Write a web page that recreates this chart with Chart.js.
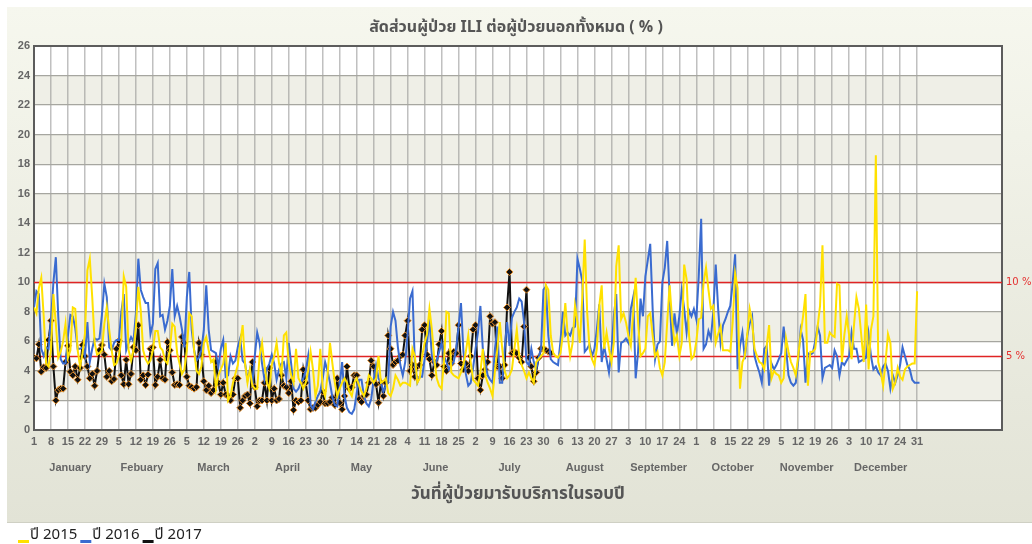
<!DOCTYPE html>
<html>
<head>
<meta charset="utf-8">
<script src="https://cdn.jsdelivr.net/npm/chart.js"></script>
<style>
html,body{margin:0;padding:0;background:#ffffff;}
#wrap{width:1032px;height:544px;position:relative;}
</style>
</head>
<body>
<div id="wrap"><canvas id="c" width="1032" height="544"></canvas></div>
<script>
const chartTitle = 'สัดส่วนผู้ป่วย ILI ต่อผู้ป่วยนอกทั้งหมด ( % )';
const xAxisTitle = 'วันที่ผู้ป่วยมารับบริการในรอบปี';
const seriesLabels = ['ปี 2015', 'ปี 2016', 'ปี 2017'];

const data2015 = [
8.3,7.9,9.6,10.3,7.7,4.5,4.3,
5.4,9.2,7.2,4.9,5.3,6.0,7.2,
4.9,5.4,8.3,8.2,5.4,4.3,5.2,
6.5,10.8,11.6,9.0,5.9,5.1,5.2,
5.4,7.2,8.3,6.8,5.4,4.4,4.5,
5.0,6.1,10.4,9.7,5.4,4.7,5.4,
7.0,9.7,8.1,5.4,4.8,4.5,4.7,
5.4,6.7,6.7,5.6,5.4,4.7,4.5,
5.4,7.2,7.0,5.2,4.5,3.8,4.1,
5.4,7.9,7.7,5.4,4.0,3.8,4.3,
5.9,6.3,5.4,4.6,4.8,2.8,3.7,
4.1,4.5,5.9,2.0,2.3,3.2,3.8,
4.4,5.9,7.1,4.5,3.2,4.1,3.0,
2.8,2.8,5.0,5.9,4.4,3.2,2.8,
4.4,5.0,5.9,4.5,3.7,6.4,6.6,
4.5,3.7,3.2,5.5,3.5,3.2,2.8,
3.2,4.0,5.3,4.1,2.3,3.0,5.5,
2.8,2.3,3.7,5.9,4.5,3.2,2.3,
2.8,3.2,3.5,3.2,2.6,2.3,3.2,
3.5,3.0,2.6,2.3,2.8,3.7,3.5,
3.2,3.5,5.0,3.2,3.3,3.5,2.5,
2.3,2.8,3.7,3.4,3.0,3.2,3.2,
3.1,3.0,5.5,5.0,3.2,3.5,5.0,
5.9,6.5,8.2,6.8,4.8,3.5,3.0,
2.8,4.6,8.0,7.9,3.9,3.7,3.6,
3.5,3.9,4.4,5.3,6.4,4.6,3.4,
3.2,3.0,3.9,5.5,3.7,3.2,2.8,
2.3,4.0,5.5,7.3,5.5,4.0,3.5,
3.7,4.1,5.5,6.8,5.0,4.4,4.0,
3.5,3.9,3.5,3.2,4.6,4.8,5.0,
5.2,9.8,9.5,6.4,5.2,5.0,4.9,
5.2,6.5,8.6,6.4,5.0,5.9,8.4,
7.3,5.9,9.0,12.9,8.0,5.5,4.8,
4.4,5.5,8.4,9.8,5.5,6.6,5.5,
4.6,5.9,11.1,12.5,7.5,7.9,7.3,
6.4,5.7,8.0,10.3,7.3,5.0,5.2,
5.5,7.7,7.9,6.4,5.0,5.3,4.2,
3.7,4.6,7.3,9.8,7.5,5.9,6.4,
5.0,5.9,11.2,10.2,6.4,4.8,5.0,
6.0,7.5,7.6,10.0,11.0,9.5,8.2,
8.4,5.9,6.5,7.0,5.4,5.4,5.4,
5.3,7.3,10.6,9.6,2.8,4.6,5.0,
6.5,8.2,7.3,5.5,5.0,4.6,4.5,
4.1,5.7,7.1,3.5,4.0,3.8,3.7,
3.2,3.5,6.2,5.3,4.6,4.2,3.7,
5.0,6.5,7.7,9.2,3.0,5.3,5.3,
5.5,7.0,8.4,12.5,5.9,5.9,6.6,
6.4,6.3,9.9,9.8,4.6,6.4,7.7,
6.4,4.8,7.1,9.0,8.2,6.4,4.6,
8.5,4.1,6.8,7.7,18.6,4.6,3.9,
3.0,4.6,6.5,5.9,2.8,3.2,4.2,
3.6,3.4,4.1,4.3,4.4,4.5,4.5,
9.4
];

const data2016 = [
8.3,9.4,9.2,5.5,5.0,5.6,5.5,
7.5,10.0,11.7,7.7,4.8,4.5,4.5,
6.4,7.8,7.7,6.9,5.5,5.5,5.6,
5.0,7.3,4.6,5.5,6.2,6.1,6.2,
7.8,9.9,9.0,5.6,5.4,5.9,6.1,
6.1,8.0,9.2,5.4,5.9,6.3,6.0,
7.9,11.6,9.5,9.0,8.6,8.6,6.5,
7.2,10.9,11.3,7.7,7.8,6.8,7.4,
8.4,10.9,7.7,8.4,7.7,6.8,5.6,
9.0,10.7,6.8,5.4,4.7,4.9,5.4,
6.8,9.8,6.8,5.4,5.3,5.2,4.3,
5.5,6.1,3.6,3.7,5.0,4.5,4.7,
5.6,6.2,4.7,4.5,3.4,4.1,3.2,
5.0,6.6,5.9,4.5,3.4,4.1,4.5,
5.1,4.5,3.4,4.1,4.5,4.6,3.5,
5.9,4.5,2.8,2.6,2.8,3.2,3.5,
4.0,5.0,1.7,1.4,1.9,2.3,2.6,
3.5,4.6,4.0,3.2,2.2,1.7,1.6,
3.0,4.6,2.3,1.5,1.2,1.1,1.4,
2.5,3.4,3.4,2.3,1.8,1.6,2.1,
3.4,4.4,3.5,3.2,2.6,3.0,3.2,
7.0,8.0,7.4,5.6,4.4,3.7,4.6,
6.5,8.9,9.4,4.4,3.2,3.6,3.6,
4.8,5.9,7.5,5.0,4.4,4.7,5.3,
5.9,5.0,4.6,4.1,4.4,4.6,5.5,
7.0,8.6,5.3,3.8,3.0,3.2,4.2,
5.5,6.6,8.4,5.5,4.6,3.7,3.4,
3.2,5.5,7.0,3.2,3.2,5.5,7.3,
5.7,7.6,8.0,8.3,8.9,8.7,7.3,
4.6,4.4,5.5,4.6,4.1,4.9,5.5,
9.5,9.7,6.4,4.8,4.6,4.5,4.4,
6.0,8.0,6.4,6.6,6.4,6.9,7.0,
11.6,10.9,10.1,5.3,5.5,5.8,5.0,
5.5,6.8,8.5,4.6,5.7,4.8,3.9,
5.3,7.7,9.2,3.9,5.9,6.0,6.2,
5.9,8.2,9.0,3.5,5.3,8.9,7.7,
10.4,11.5,12.6,8.2,4.8,5.8,6.0,
10.0,11.0,12.8,9.1,5.7,7.9,6.5,
7.7,9.5,8.2,6.6,8.1,7.7,8.2,
7.5,10.4,14.3,5.5,5.8,6.7,6.2,
8.0,11.2,8.2,5.9,7.1,7.5,8.0,
8.4,10.0,11.9,4.1,5.7,6.6,4.8,
6.4,7.2,7.7,5.0,4.4,3.9,3.2,
5.5,5.7,3.0,4.5,4.1,4.4,4.8,
5.2,7.0,5.5,3.7,3.2,3.0,3.2,
4.7,6.8,6.1,3.2,5.2,5.1,5.2,
6.0,7.0,6.4,3.5,4.2,4.3,4.4,
4.2,5.4,5.0,3.7,4.6,4.4,4.7,
5.0,6.6,5.5,5.5,4.6,4.7,4.8,
4.9,6.5,5.0,4.1,4.3,3.9,3.7,
4.3,4.5,4.0,2.8,3.7,3.2,3.7,
4.4,5.6,5.0,4.4,4.1,3.4,3.2,
3.2,3.2
];

const data2017 = [
4.9,4.85,5.8,3.95,4.25,4.2,6.1,
7.4,4.3,2.0,2.7,2.8,2.8,4.6,
5.7,3.95,3.7,4.3,3.4,4.2,5.75,
5.0,4.3,3.5,3.8,3.0,4.0,5.4,
5.75,5.1,3.6,4.0,3.3,3.45,5.5,
6.05,3.7,3.1,4.75,3.1,3.8,5.6,
5.4,7.1,3.4,3.7,3.05,3.75,5.5,
5.6,3.05,3.6,4.75,3.5,3.4,5.95,
5.4,3.9,3.05,3.1,3.05,6.3,5.9,
3.6,3.0,2.9,2.8,2.9,5.9,5.1,
3.3,2.7,3.0,2.5,2.7,4.6,3.2,
2.4,3.2,2.4,2.3,2.0,2.4,3.5,
3.5,1.5,2.0,2.3,2.4,1.8,4.6,
2.9,1.6,2.0,2.0,3.2,2.0,4.2,
2.0,2.8,2.0,2.1,3.7,3.0,2.9,
2.5,3.3,1.35,2.0,1.9,2.0,4.1,
3.2,2.0,1.4,1.5,1.5,1.7,1.9,
2.6,1.8,1.8,1.9,2.2,1.7,3.5,
1.85,1.4,2.3,4.3,2.8,2.9,3.7,
3.7,2.1,1.9,2.3,2.4,3.2,4.7,
4.3,3.1,1.85,3.2,2.3,3.2,6.4,
5.5,4.4,4.6,4.7,5.0,5.1,6.4,
7.4,4.0,4.4,3.6,4.3,4.4,6.8,
7.1,5.1,4.8,3.7,4.6,4.4,5.8,
6.7,4.3,4.0,5.2,4.5,5.3,5.2,
7.1,4.5,4.1,4.5,4.0,5.0,6.8,
7.1,3.5,2.7,3.7,4.1,4.6,7.7,
7.2,7.3,4.3,4.3,3.5,4.4,8.3,
10.7,5.2,5.3,5.2,4.9,4.6,7.0,
9.5,4.9,4.3,3.3,3.9,4.9,5.5,
5.5,5.4,5.3,5.2
];

const tickLabels = ['1','8','15','22','29','5','12','19','26','5','12','19','26',
  '2','9','16','23','30','7','14','21','28','4','11','18','25',
  '2','9','16','23','30','6','13','20','27','3','10','17','24',
  '1','8','15','22','29','5','12','19','26','3','10','17','24','31'];
const monthNames = ['January','Febuary','March','April','May','June','July','August','September','October','November','December'];
const monthDays = [31,28,31,30,31,30,31,31,30,31,30,31];
const thresholdValues = [10, 5];
const thresholdLabels = ['10 %', '5 %'];

const NUM_FONT = "'Liberation Sans', Arial, sans-serif";
const THAI_FONT = "Tahoma, 'Noto Sans Thai', 'Noto Sans Thai UI', Garuda, Loma, 'Liberation Sans', sans-serif";

const toPoints = arr => arr.map((v, i) => ({ x: i, y: v }));

const backgroundPlugin = {
  id: 'bgPanel',
  beforeDraw(chart) {
    const { ctx, chartArea: a, scales: { y } } = chart;
    ctx.save();
    ctx.fillStyle = '#ffffff';
    ctx.fillRect(0, 0, chart.width, chart.height);
    const g = ctx.createLinearGradient(0, 7, 0, 523);
    g.addColorStop(0, '#f6f7ee');
    g.addColorStop(1, '#e2e3d6');
    ctx.fillStyle = g;
    ctx.fillRect(7, 7, chart.width - 7, 516);
    ctx.fillStyle = '#cfd0c4';
    ctx.fillRect(7, 522, chart.width - 7, 1);
    ctx.fillStyle = '#ffffff';
    ctx.fillRect(a.left, a.top, a.right - a.left, a.bottom - a.top);
    ctx.fillStyle = '#efefe7';
    for (let v = 2; v < 26; v += 4) {
      const y1 = y.getPixelForValue(v + 2), y0 = y.getPixelForValue(v);
      ctx.fillRect(a.left, y1, a.right - a.left, y0 - y1);
    }
    ctx.restore();
  }
};

const overlayPlugin = {
  id: 'overlay',
  beforeDatasetsDraw(chart) {
    const { ctx, chartArea: a, scales: { x, y } } = chart;
    ctx.save();
    ctx.strokeStyle = '#5c5c5c';
    ctx.lineWidth = 2;
    ctx.strokeRect(a.left, a.top, a.right - a.left, a.bottom - a.top);
    ctx.strokeStyle = '#e02424';
    ctx.lineWidth = 1.5;
    ctx.fillStyle = '#e53030';
    ctx.font = "10px 'DejaVu Sans', sans-serif";
    ctx.textAlign = 'left';
    ctx.textBaseline = 'middle';
    thresholdValues.forEach((t, i) => {
      const py = Math.round(y.getPixelForValue(t)) + 0.5;
      ctx.beginPath();
      ctx.moveTo(a.left, py);
      ctx.lineTo(a.right, py);
      ctx.stroke();
      ctx.fillText(thresholdLabels[i], a.right + 4, py);
    });
    ctx.fillStyle = '#666666';
    ctx.font = "bold 11px " + NUM_FONT;
    ctx.textAlign = 'center';
    let start = 0;
    monthNames.forEach((m, i) => {
      const c = start + (monthDays[i] - 1) / 2;
      ctx.fillText(m, x.getPixelForValue(c), 468);
      start += monthDays[i];
    });
    ctx.restore();
  }
};

const legendPlugin = {
  id: 'bottomLegend',
  afterDraw(chart) {
    const { ctx } = chart;
    ctx.save();
    ctx.font = "15px " + THAI_FONT;
    ctx.textBaseline = 'middle';
    ctx.textAlign = 'left';
    let px = 18;
    chart.data.datasets.forEach(ds => {
      ctx.fillStyle = ds.borderColor;
      ctx.fillRect(px, 540, 11, 3);
      ctx.fillStyle = '#222222';
      ctx.fillText(ds.label, px + 12, 536);
      px += 12 + ctx.measureText(ds.label).width + 3;
    });
    ctx.restore();
  }
};

new Chart(document.getElementById('c'), {
  type: 'line',
  data: {
    datasets: [
      { label: seriesLabels[0], data: toPoints(data2015), borderColor: '#ffe100', borderWidth: 2, pointRadius: 0, tension: 0 },
      { label: seriesLabels[1], data: toPoints(data2016), borderColor: '#3a6bd0', borderWidth: 2, pointRadius: 0, tension: 0 },
      { label: seriesLabels[2], data: toPoints(data2017), borderColor: '#111111', borderWidth: 2, tension: 0,
        pointStyle: 'rectRot', pointRadius: 3.5, pointBackgroundColor: '#111111', pointBorderColor: '#e8902a', pointBorderWidth: 1 }
    ]
  },
  options: {
    responsive: false,
    animation: false,
    layout: { padding: { left: 0, right: 0, top: 0, bottom: 34 } },
    plugins: {
      legend: { display: false },
      tooltip: { enabled: false },
      title: {
        display: true, text: chartTitle, color: '#555555',
        font: { family: THAI_FONT, size: 16, weight: 'bold', lineHeight: 1.125 },
        padding: { top: 20, bottom: 8 }
      }
    },
    scales: {
      x: {
        type: 'linear', min: 0, max: 399,
        afterBuildTicks: s => { s.ticks = s.ticks.filter(t => t.value <= 364); },
        afterFit: s => { s.height = 80; },
        ticks: {
          stepSize: 7, autoSkip: false, maxRotation: 0, padding: 5, color: '#666666',
          font: { family: NUM_FONT, size: 11, weight: 'bold' },
          callback: v => tickLabels[Math.round(v / 7)]
        },
        grid: { color: 'rgba(140,140,140,0.55)', lineWidth: 1.5, drawTicks: false },
        border: { display: false },
        title: {
          display: true, text: xAxisTitle, color: '#555555',
          font: { family: THAI_FONT, size: 17, weight: 'bold', lineHeight: 1.2 },
          padding: { top: 0, bottom: 4 }
        }
      },
      y: {
        min: 0, max: 26,
        afterFit: s => { s.width = 34; },
        ticks: { stepSize: 2, padding: 4, color: '#666666', font: { family: NUM_FONT, size: 11, weight: 'bold' } },
        grid: { color: '#a6a6a0', lineWidth: 1.2, drawTicks: false },
        border: { display: false }
      },
      yRight: {
        position: 'right', min: 0, max: 26,
        afterFit: s => { s.width = 30; },
        ticks: { display: false },
        grid: { display: false, drawTicks: false },
        border: { display: false }
      }
    }
  },
  plugins: [backgroundPlugin, overlayPlugin, legendPlugin]
});
</script>
</body>
</html>
